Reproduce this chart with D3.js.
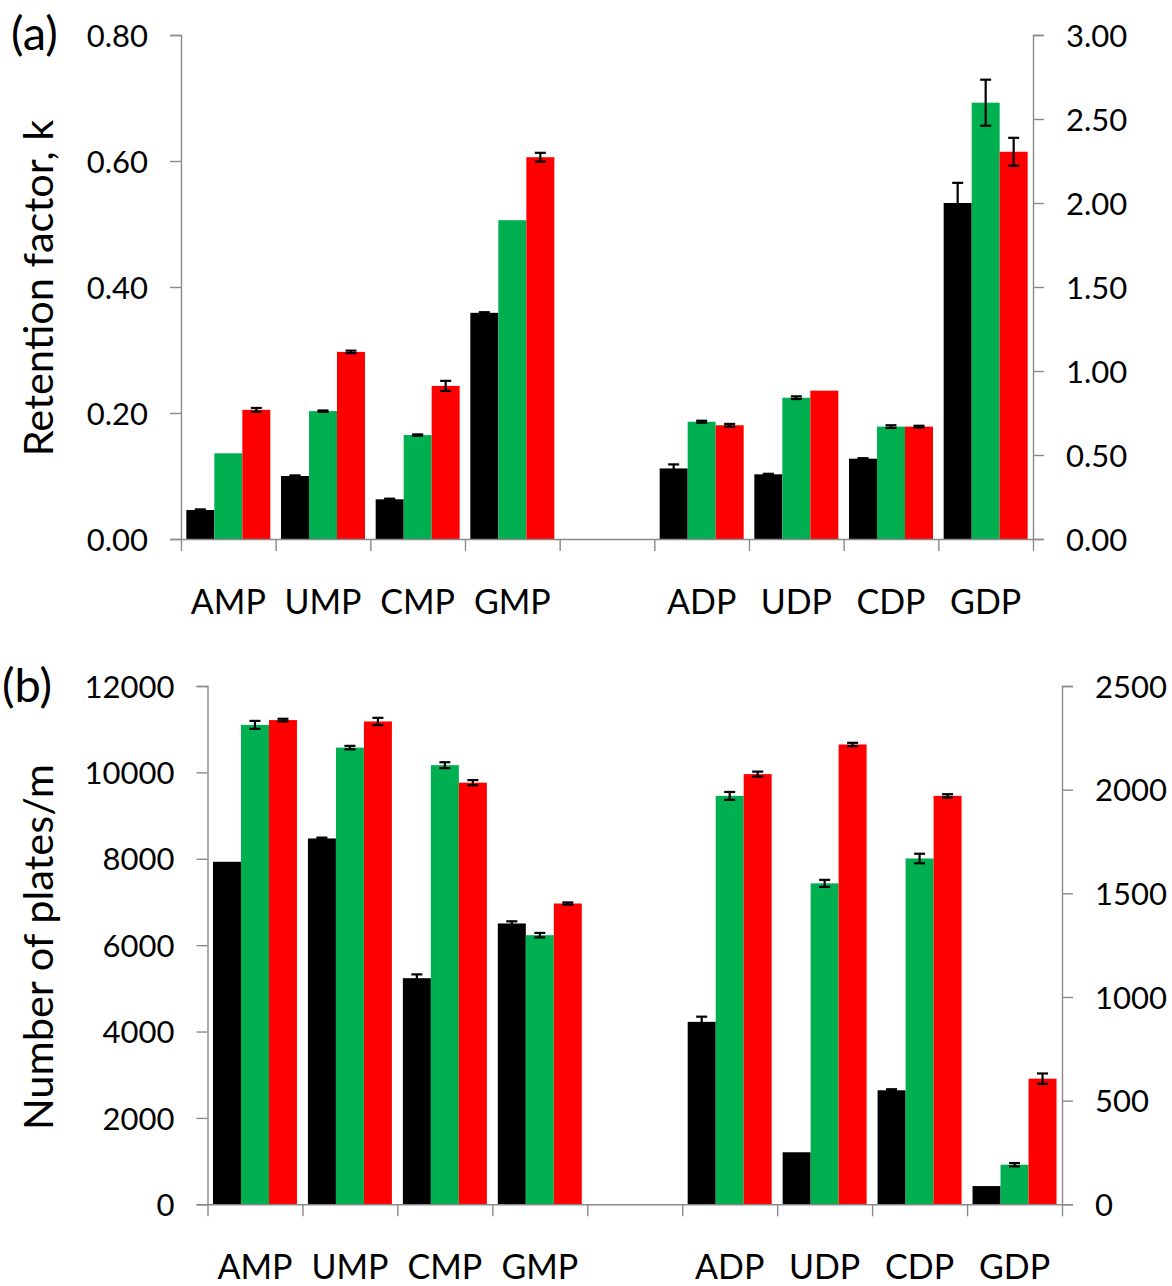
<!DOCTYPE html>
<html>
<head>
<meta charset="utf-8">
<script src="https://cdn.jsdelivr.net/npm/d3@7"></script>
<style>
  html, body { margin: 0; padding: 0; background: #fff; }
  svg { display: block; }
  text { font-family: Lato, "Open Sans", sans-serif; fill: #000; }
</style>
</head>
<body>
<svg id="chart" width="1172" height="1286"></svg>
<script>
// ---------- data ----------
const categories = ["AMP", "UMP", "CMP", "GMP", "", "ADP", "UDP", "CDP", "GDP"];
const seriesNames = ["black", "green", "red"];
const seriesColors = ["#000000", "#00B050", "#FF0000"];

// Panel (a): retention factor k. First 4 categories on left axis, last 4 on right axis.
const kBlack = [0.046, 0.100, 0.063, 0.359, null, 0.42, 0.385, 0.478, 2.00];
const kGreen = [0.136, 0.203, 0.165, 0.506, null, 0.698, 0.841, 0.669, 2.597];
const kRed   = [0.205, 0.297, 0.243, 0.606, null, 0.677, 0.883, 0.669, 2.305];
const kBlackErr = [0.001, 0.001, 0.001, 0.001, null, 0.024, 0.003, 0.003, 0.12];
const kGreenErr = [0, 0.001, 0.001, 0, null, 0.006, 0.008, 0.008, 0.137];
const kRedErr   = [0.003, 0.002, 0.008, 0.007, null, 0.008, 0, 0.005, 0.083];

// Panel (b): number of plates/m.
const nBlack = [7930, 8470, 5235, 6502, null, 880, 251, 550, 88];
const nGreen = [11100, 10574, 10167, 6231, null, 1970, 1548, 1668, 191];
const nRed   = [11211, 11179, 9761, 6964, null, 2075, 2218, 1970, 606];
const nBlackErr = [0, 20, 88, 50, null, 25, 0, 5, 0];
const nGreenErr = [92, 40, 68, 52, null, 19, 17, 23, 8];
const nRedErr   = [30, 84, 60, 25, null, 12, 8, 8, 25];

const aLeftTicks  = [0, 0.2, 0.4, 0.6, 0.8];
const aRightTicks = [0, 0.5, 1.0, 1.5, 2.0, 2.5, 3.0];
const bLeftTicks  = [0, 2000, 4000, 6000, 8000, 10000, 12000];
const bRightTicks = [0, 500, 1000, 1500, 2000, 2500];

// ---------- drawing ----------
const svg = d3.select("#chart");
const axisColor = "#8a8a8a";

function drawPanel(cfg) {
  const g = svg.append("g");
  const x = d3.scaleBand().domain(d3.range(categories.length)).range([cfg.x0, cfg.x1]).padding(0);
  const yL = d3.scaleLinear().domain(cfg.leftDomain).range([cfg.yBottom, cfg.yTop]);
  const yR = d3.scaleLinear().domain(cfg.rightDomain).range([cfg.yBottom, cfg.yTop]);
  const inner = d3.scaleBand().domain(d3.range(3)).range([0, cfg.barW * 3]).padding(0);
  const offset = (x.bandwidth() - cfg.barW * 3) / 2;

  const series = cfg.values.map((vals, si) => ({ si, vals, errs: cfg.errs[si] }));
  const items = [];
  series.forEach(s => {
    s.vals.forEach((v, ci) => {
      if (v === null) return;
      const scale = ci >= 5 ? yR : yL;
      items.push({ ci, si: s.si, v, e: s.errs[ci], scale });
    });
  });

  // bars
  g.selectAll("rect.bar").data(items).enter().append("rect")
    .attr("class", "bar")
    .attr("x", d => x(d.ci) + offset + inner(d.si))
    .attr("width", inner.bandwidth())
    .attr("y", d => d.scale(d.v))
    .attr("height", d => d.scale(0) - d.scale(d.v))
    .attr("fill", d => seriesColors[d.si]);

  // error bars
  const eb = g.selectAll("g.err").data(items.filter(d => d.e > 0)).enter().append("g")
    .attr("class", "err")
    .attr("stroke", "#000").attr("stroke-width", 2.2).attr("fill", "none");
  const cx = d => x(d.ci) + offset + inner(d.si) + inner.bandwidth() / 2;
  eb.append("line")
    .attr("x1", cx).attr("x2", cx)
    .attr("y1", d => d.scale(d.v + d.e)).attr("y2", d => d.scale(d.v - d.e));
  eb.append("line")
    .attr("x1", d => cx(d) - 5.5).attr("x2", d => cx(d) + 5.5)
    .attr("y1", d => d.scale(d.v + d.e)).attr("y2", d => d.scale(d.v + d.e));
  eb.append("line")
    .attr("x1", d => cx(d) - 5.5).attr("x2", d => cx(d) + 5.5)
    .attr("y1", d => d.scale(d.v - d.e)).attr("y2", d => d.scale(d.v - d.e));

  // left axis
  const la = g.append("g").attr("transform", `translate(${cfg.x0},0)`)
    .call(d3.axisLeft(yL).tickValues(cfg.leftTicks).tickSize(11).tickPadding(22).tickFormat(cfg.leftFmt));
  // right axis
  const ra = g.append("g").attr("transform", `translate(${cfg.x1},0)`)
    .call(d3.axisRight(yR).tickValues(cfg.rightTicks).tickSize(11).tickPadding(22).tickFormat(cfg.rightFmt));
  // bottom boundary ticks
  const xb = d3.scaleLinear().domain([0, categories.length]).range([cfg.x0, cfg.x1]);
  const ba = g.append("g").attr("transform", `translate(0,${cfg.yBottom})`)
    .call(d3.axisBottom(xb).tickValues(d3.range(categories.length + 1)).tickSize(12).tickFormat("").tickSizeOuter(0));

  [la, ra, ba].forEach(a => {
    a.selectAll("path.domain").attr("stroke", axisColor).attr("stroke-width", 1.4);
    a.selectAll(".tick line").attr("stroke", axisColor).attr("stroke-width", 1.4);
  });
  [la, ra].forEach(a => {
    a.selectAll(".tick text").attr("font-size", 31).attr("font-family", "Lato, sans-serif").attr("fill", "#000")
      .attr("dy", "0.36em");
  });

  // category labels
  g.selectAll("text.cat").data(categories).enter().append("text")
    .attr("class", "cat")
    .attr("x", (d, i) => x(i) + x.bandwidth() / 2)
    .attr("y", cfg.labelBaseline)
    .attr("text-anchor", "middle")
    .attr("font-size", 34)
    .text(d => d);

  // y title
  g.append("text")
    .attr("transform", `translate(${cfg.titleX},${cfg.titleY}) rotate(-90)`)
    .attr("text-anchor", "middle")
    .attr("font-size", 41.5)
    .text(cfg.title);

  // panel tag
  g.append("text")
    .attr("x", cfg.tagX).attr("y", cfg.tagY)
    .attr("font-size", 47)
    .text(cfg.tag);
}

drawPanel({
  x0: 181, x1: 1033, yTop: 35, yBottom: 539, barW: 28,
  leftDomain: [0, 0.8], rightDomain: [0, 3],
  leftTicks: aLeftTicks, rightTicks: aRightTicks,
  leftFmt: d3.format(".2f"), rightFmt: d3.format(".2f"),
  values: [kBlack, kGreen, kRed], errs: [kBlackErr, kGreenErr, kRedErr],
  labelBaseline: 614, title: "Retention factor, k", titleX: 53, titleY: 288,
  tag: "(a)", tagX: 11, tagY: 50
});

drawPanel({
  x0: 207.5, x1: 1062, yTop: 686, yBottom: 1204.3, barW: 28,
  leftDomain: [0, 12000], rightDomain: [0, 2500],
  leftTicks: bLeftTicks, rightTicks: bRightTicks,
  leftFmt: d3.format("d"), rightFmt: d3.format("d"),
  values: [nBlack, nGreen, nRed], errs: [nBlackErr, nGreenErr, nRedErr],
  labelBaseline: 1279, title: "Number of plates/m", titleX: 53, titleY: 947,
  tag: "(b)", tagX: 2, tagY: 702
});
</script>
</body>
</html>
